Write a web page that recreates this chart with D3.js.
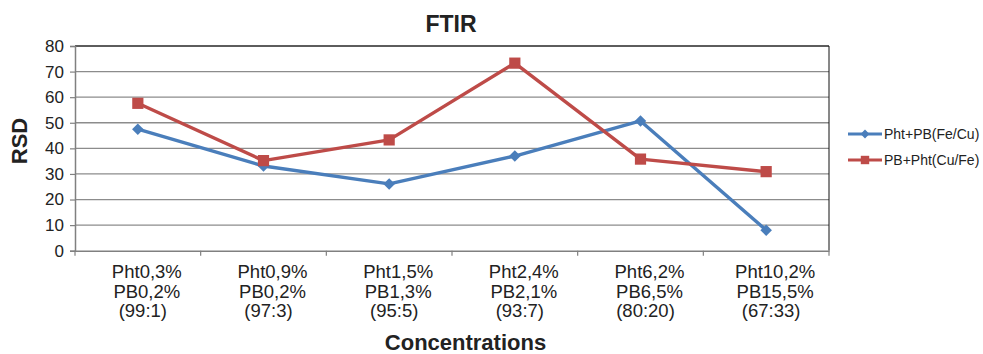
<!DOCTYPE html>
<html><head><meta charset="utf-8">
<script src="https://cdn.jsdelivr.net/npm/d3@7"></script>
<style>body{margin:0;background:#fff}svg{display:block;font-family:"Liberation Sans",Arial,sans-serif}</style>
</head><body><svg id="c" width="983" height="354"></svg>
<script>
const categories = [
  ["Pht0,3%","PB0,2%","(99:1)"],
  ["Pht0,9%","PB0,2%","(97:3)"],
  ["Pht1,5%","PB1,3%","(95:5)"],
  ["Pht2,4%","PB2,1%","(93:7)"],
  ["Pht6,2%","PB6,5%","(80:20)"],
  ["Pht10,2%","PB15,5%","(67:33)"]
];
const seriesNames = ["Pht+PB(Fe/Cu)", "PB+Pht(Cu/Fe)"];
const blueValues = [47.5, 33.1, 26.1, 37.0, 50.7, 8.0];
const redValues = [57.6, 35.2, 43.3, 73.3, 35.8, 30.9];
const yTicks = [0,10,20,30,40,50,60,70,80];
const colors = ["#4a7ebb", "#be4b48"];

const svg = d3.select("#c");
const L = 75, R = 829, T = 46, B = 250.7;
const x = d3.scaleBand().domain(d3.range(categories.length)).range([L, R]);
const y = d3.scaleLinear().domain([0, 80]).range([B, T]);

// gridlines
svg.append("g").selectAll("line").data(yTicks.slice(1)).join("line")
  .attr("x1", L).attr("x2", R).attr("y1", d => y(d)).attr("y2", d => y(d))
  .attr("stroke", "#8c8c8c").attr("stroke-width", 1.3);
// plot border top/right
svg.append("path").attr("d", `M${L},${T}H${R}V${B}`).attr("fill","none").attr("stroke","#111").attr("stroke-width",1);

// y axis
const yAxis = d3.axisLeft(y).tickValues(yTicks).tickSize(5).tickPadding(6);
const gy = svg.append("g").attr("transform", `translate(${L},0)`).call(yAxis);
gy.select(".domain").attr("stroke", "#808080").attr("stroke-width", 1.5);
gy.selectAll(".tick line").attr("stroke", "#808080").attr("stroke-width", 1.2);
gy.selectAll(".tick text").attr("font-size", 17).attr("fill", "#222").attr("font-family", "Liberation Sans, Arial, sans-serif");

// x axis
const xAxis = d3.axisBottom(x).tickSize(0).tickFormat("");
const gx = svg.append("g").attr("transform", `translate(0,${B})`).call(xAxis);
gx.select(".domain").attr("stroke", "#808080").attr("stroke-width", 1.5);
gx.selectAll(".tick").remove();
const bounds = d3.range(categories.length + 1).map(i => L + i * x.bandwidth());
svg.append("g").selectAll("line").data(bounds).join("line")
  .attr("x1", d => d).attr("x2", d => d).attr("y1", B).attr("y2", B + 5)
  .attr("stroke", "#808080").attr("stroke-width", 1.2);
const labels = svg.append("g").selectAll("text").data(categories).join("text")
  .attr("text-anchor", "middle").attr("font-size", 18.5).attr("fill", "#222")
  .attr("data-cx", (d, i) => x(i) + x.bandwidth() / 2);
labels.selectAll("tspan").data(d => d).join("tspan")
  .attr("x", function(d, j) { return +this.parentNode.getAttribute("data-cx") + (j < 2 ? 9 : 5); })
  .attr("y", (d, j) => 278 + j * 19.5).text(d => d);

// series
const line = d3.line().x((d, i) => x(i) + x.bandwidth() / 2).y(d => y(d));
[blueValues, redValues].forEach((vals, s) => {
  svg.append("path").datum(vals).attr("d", line).attr("fill", "none")
    .attr("stroke", colors[s]).attr("stroke-width", 3.4).attr("stroke-linejoin", "round");
  const sym = s === 0 ? d3.symbol(d3.symbolDiamond2, 85) : d3.symbol(d3.symbolSquare2, 160);
  svg.append("g").selectAll("path").data(vals).join("path")
    .attr("d", sym)
    .attr("transform", (d, i) => `translate(${x(i) + x.bandwidth() / 2},${y(d)})`)
    .attr("fill", colors[s]);
});

// legend
seriesNames.forEach((n, s) => {
  const ly = 134 + s * 26;
  svg.append("line").attr("x1", 848).attr("x2", 882).attr("y1", ly).attr("y2", ly)
    .attr("stroke", colors[s]).attr("stroke-width", 3.2);
  const sym = s === 0 ? d3.symbol(d3.symbolDiamond2, 50) : d3.symbol(d3.symbolSquare2, 90);
  svg.append("path").attr("d", sym).attr("transform", `translate(865,${ly})`).attr("fill", colors[s]);
  svg.append("text").attr("x", 884).attr("y", ly + 5).attr("font-size", 14).attr("fill", "#222").text(n);
});

// titles
svg.append("text").attr("x", 451).attr("y", 32).attr("text-anchor", "middle")
  .attr("font-size", 23).attr("font-weight", "bold").attr("fill", "#222").text("FTIR");
svg.append("text").attr("transform", "translate(27,141) rotate(-90)").attr("text-anchor", "middle")
  .attr("font-size", 22).attr("font-weight", "bold").attr("fill", "#222").text("RSD");
svg.append("text").attr("x", 465.5).attr("y", 350).attr("text-anchor", "middle")
  .attr("font-size", 22).attr("font-weight", "bold").attr("fill", "#222").text("Concentrations");
</script></body></html>
